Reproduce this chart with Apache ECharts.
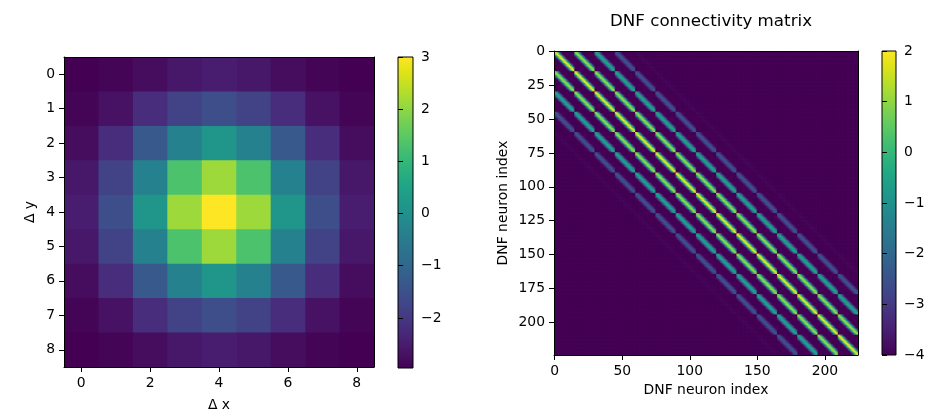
<!DOCTYPE html>
<html>
<head>
<meta charset="utf-8">
<script src="https://cdn.jsdelivr.net/npm/echarts@6/dist/echarts.min.js"></script>
<style>html,body{margin:0;padding:0;background:#fff;}#c{width:930px;height:417px;}</style>
</head>
<body>
<div id="c"></div>
<script>
// ---- data ----
// left panel: 9x9 interaction kernel (rows = Δy 0..8, cols = Δx 0..8)
const kernel = [
  [-2.96, -2.90, -2.78, -2.58, -2.48, -2.58, -2.78, -2.90, -2.96],
  [-2.90, -2.68, -2.20, -1.80, -1.55, -1.80, -2.20, -2.68, -2.90],
  [-2.78, -2.20, -1.30, -0.35,  0.15, -0.35, -1.30, -2.20, -2.78],
  [-2.58, -1.80, -0.35,  1.30,  2.12,  1.30, -0.35, -1.80, -2.58],
  [-2.48, -1.55,  0.15,  2.12,  3.00,  2.12,  0.15, -1.55, -2.48],
  [-2.58, -1.80, -0.35,  1.30,  2.12,  1.30, -0.35, -1.80, -2.58],
  [-2.78, -2.20, -1.30, -0.35,  0.15, -0.35, -1.30, -2.20, -2.78],
  [-2.90, -2.68, -2.20, -1.80, -1.55, -1.80, -2.20, -2.68, -2.90],
  [-2.96, -2.90, -2.78, -2.58, -2.48, -2.58, -2.78, -2.90, -2.96]
];
const kernelTicksX = ['0','1','2','3','4','5','6','7','8'];
const kernelTicksY = ['0','1','2','3','4','5','6','7','8'];
const kernelBarTicks = [-2, -1, 0, 1, 2, 3];
// right panel: weight between two neurons of the 15x15 DNF grid, by offset (Δy, Δx) = (-4..4, -4..4)
const connKernel = [
  [-4.00, -3.98, -3.96, -3.93, -3.92, -3.93, -3.96, -3.98, -4.00],
  [-3.98, -3.60, -3.10, -2.60, -2.40, -2.60, -3.10, -3.60, -3.98],
  [-3.96, -3.10, -1.80, -0.80, -0.50, -0.80, -1.80, -3.10, -3.96],
  [-3.93, -2.60, -0.80,  0.60,  1.20,  0.60, -0.80, -2.60, -3.93],
  [-3.92, -2.40, -0.50,  1.20,  2.00,  1.20, -0.50, -2.40, -3.92],
  [-3.93, -2.60, -0.80,  0.60,  1.20,  0.60, -0.80, -2.60, -3.93],
  [-3.96, -3.10, -1.80, -0.80, -0.50, -0.80, -1.80, -3.10, -3.96],
  [-3.98, -3.60, -3.10, -2.60, -2.40, -2.60, -3.10, -3.60, -3.98],
  [-4.00, -3.98, -3.96, -3.93, -3.92, -3.93, -3.96, -3.98, -4.00]
];
const gridSide = 15;            // 15 x 15 neurons -> 225
const outsideWeight = -4;       // weight outside the 9x9 window
const matrixTickStepX = 50;
const matrixTickStepY = 25;
const matrixBarMin = -4, matrixBarMax = 2;

const viridis = ['#440154','#471365','#482475','#463480','#414487','#3b528b','#355f8d','#2f6c8e',
  '#2a788e','#25848e','#21918c','#1e9c89','#22a884','#2fb47c','#44bf70','#5ec962','#7ad151',
  '#9bd93c','#bddf26','#dfe318','#fde725'];

// ---- build tables ----
const kData = [];
kernel.forEach((row, r) => row.forEach((v, c) => kData.push([c, r, v])));
const kMin = Math.min(...kernel.flat()), kMax = Math.max(...kernel.flat());

const N = gridSide * gridSide;
const half = (connKernel.length - 1) / 2;
const mData = [];
for (let i = 0; i < N; i++) {
  const y1 = Math.floor(i / gridSide), x1 = i % gridSide;
  for (let j = 0; j < N; j++) {
    const y2 = Math.floor(j / gridSide), x2 = j % gridSide;
    const dy = y2 - y1, dx = x2 - x1;
    let w = outsideWeight;
    if (Math.abs(dx) <= half && Math.abs(dy) <= half) w = connKernel[dy + half][dx + half];
    mData.push([j, i, w]);
  }
}
const mCats = Array.from({length: N}, (_, i) => String(i));

// ---- styles ----
const FONT = 'DejaVu Sans';
const FS = 13.9;
const txt = {color: '#000', fontFamily: FONT, fontSize: FS};
const minus = v => (v < 0 ? '\u2212' + (-v) : String(v));
const lineSt = {show: true, lineStyle: {color: '#000', width: 1}};
const tickSt = {show: true, length: 5, lineStyle: {color: '#000', width: 1}};
const frameAxis = (grid, data, pos) => ({
  type: 'category', data: data, gridIndex: grid, position: pos, z: 5,
  axisLine: lineSt, axisTick: {show: false}, axisLabel: {show: false}, splitLine: {show: false}
});
const barRender = (params, api) => {
  const cs = params.coordSys;
  return {
    type: 'rect',
    shape: {x: cs.x, y: cs.y, width: cs.width, height: cs.height},
    style: {
      fill: new echarts.graphic.LinearGradient(0, 1, 0, 0,
        viridis.map((c, i) => ({offset: i / (viridis.length - 1), color: c}))),
      stroke: '#000', lineWidth: 1
    }
  };
};
const cellRender = (params, api) => {
  const c = api.coord([api.value(0), api.value(1)]);
  const s = api.size([1, 1]);
  return {
    type: 'rect',
    shape: {x: c[0] - s[0] / 2, y: c[1] - s[1] / 2, width: s[0] + 0.7, height: s[1] + 0.7},
    style: {fill: api.visual('color'), stroke: null}
  };
};

const chart = echarts.init(document.getElementById('c'), null, {renderer: 'canvas'});
chart.setOption({
  animation: false,
  backgroundColor: '#fff',
  title: {
    text: 'DNF connectivity matrix', left: 706, top: 8, textAlign: 'center',
    textStyle: {color: '#000', fontFamily: FONT, fontSize: 16.7, fontWeight: 'normal'}
  },
  grid: [
    {left: 64, top: 57, width: 310, height: 311},
    {left: 398, top: 57, width: 15, height: 311},
    {left: 554, top: 51, width: 304, height: 304},
    {left: 882, top: 51, width: 14, height: 304}
  ],
  xAxis: [
    {type: 'category', gridIndex: 0, data: kernelTicksX, z: 5,
     name: 'Δ x', nameLocation: 'middle', nameGap: 31, nameTextStyle: txt,
     axisLine: lineSt,
     axisTick: Object.assign({}, tickSt, {alignWithLabel: true, interval: 1}),
     axisLabel: Object.assign({}, txt, {interval: 1, margin: 9}), splitLine: {show: false}},
    frameAxis(0, kernelTicksX, 'top'),
    {type: 'value', gridIndex: 1, min: 0, max: 1, show: false},
    {type: 'category', gridIndex: 2, data: mCats, z: 5,
     name: 'DNF neuron index', nameLocation: 'middle', nameGap: 25, nameTextStyle: txt,
     axisLine: lineSt,
     axisTick: Object.assign({}, tickSt, {alignWithLabel: true, interval: i => i % matrixTickStepX === 0}),
     axisLabel: Object.assign({}, txt, {interval: i => i % matrixTickStepX === 0, margin: 9}),
     splitLine: {show: false}},
    frameAxis(2, mCats, 'top'),
    {type: 'value', gridIndex: 3, min: 0, max: 1, show: false}
  ],
  yAxis: [
    {type: 'category', gridIndex: 0, data: kernelTicksY, inverse: true, z: 5,
     name: 'Δ y', nameLocation: 'middle', nameGap: 27, nameRotate: 90, nameTextStyle: txt,
     axisLine: lineSt,
     axisTick: Object.assign({}, tickSt, {alignWithLabel: true, interval: 0}),
     axisLabel: Object.assign({}, txt, {interval: 0, margin: 9}), splitLine: {show: false}},
    frameAxis(0, kernelTicksY, 'right'),
    {type: 'value', gridIndex: 1, position: 'right', min: kMin, max: kMax, z: 5,
     axisLine: {show: false},
     axisTick: Object.assign({}, tickSt, {customValues: kernelBarTicks}),
     axisLabel: Object.assign({}, txt, {customValues: kernelBarTicks, margin: 8, formatter: minus}),
     splitLine: {show: false}},
    {type: 'category', gridIndex: 2, data: mCats, inverse: true, z: 5,
     name: 'DNF neuron index', nameLocation: 'middle', nameGap: 44, nameRotate: 90, nameTextStyle: txt,
     axisLine: lineSt,
     axisTick: Object.assign({}, tickSt, {alignWithLabel: true, interval: i => i % matrixTickStepY === 0}),
     axisLabel: Object.assign({}, txt, {interval: i => i % matrixTickStepY === 0, margin: 9}),
     splitLine: {show: false}},
    frameAxis(2, mCats, 'right'),
    {type: 'value', gridIndex: 3, position: 'right', min: matrixBarMin, max: matrixBarMax, interval: 1, z: 5,
     axisLine: {show: false},
     axisTick: tickSt,
     axisLabel: Object.assign({}, txt, {margin: 8, formatter: minus}),
     splitLine: {show: false}}
  ],
  visualMap: [
    {type: 'continuous', seriesIndex: 0, dimension: 2, min: kMin, max: kMax, show: false, inRange: {color: viridis}},
    {type: 'continuous', seriesIndex: 2, dimension: 2, min: matrixBarMin, max: matrixBarMax, show: false, inRange: {color: viridis}}
  ],
  series: [
    {type: 'custom', xAxisIndex: 0, yAxisIndex: 0, data: kData, renderItem: cellRender, clip: true, silent: true,
     encode: {x: 0, y: 1}, progressive: 0},
    {type: 'custom', xAxisIndex: 2, yAxisIndex: 2, data: [[0.5, 0]], renderItem: barRender, silent: true},
    {type: 'custom', xAxisIndex: 3, yAxisIndex: 3, data: mData, renderItem: cellRender, clip: true, silent: true,
     encode: {x: 0, y: 1}, progressive: 0, progressiveThreshold: 1e9},
    {type: 'custom', xAxisIndex: 5, yAxisIndex: 5, data: [[0.5, 0]], renderItem: barRender, silent: true}
  ]
});
</script>
</body>
</html>
